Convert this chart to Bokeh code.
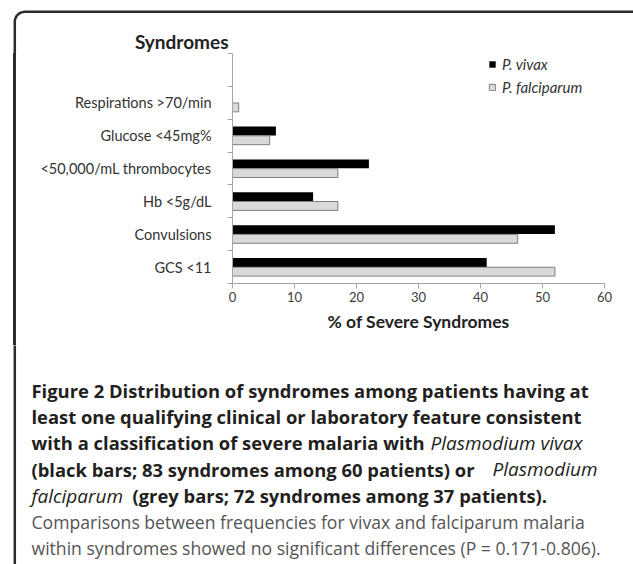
import math
from bokeh.plotting import figure
from bokeh.layouts import column, row
from bokeh.models import (Range1d, FixedTicker, Label, Legend, LegendItem,
                          ColumnDataSource, Div)
from bokeh.embed import file_html
from bokeh.resources import INLINE

# ---------------- data ----------------
categories = ["GCS <11", "Convulsions", "Hb <5g/dL", "<50,000/mL thrombocytes",
              "Glucose <45mg%", "Respirations >70/min"]
vivax = [41, 52, 13, 22, 7, 0]
falciparum = [52, 46, 17, 17, 6, 1]
x_ticks = [0, 10, 20, 30, 40, 50, 60]
series_names = ["P. vivax", "P. falciparum"]

caption_lines = [
    [("Figure 2 Distribution of syndromes among patients having at", "bold")],
    [("least one qualifying clinical or laboratory feature consistent", "bold")],
    [("with a classification of severe malaria with ", "bold"), ("Plasmodium vivax", "italic")],
    [("(black bars; 83 syndromes among 60 patients) or ", "bold"), ("Plasmodium", "italic")],
    [("falciparum", "italic"), (" (grey bars; 72 syndromes among 37 patients).", "bold")],
    [("Comparisons between frequencies for vivax and falciparum malaria", "normal")],
    [("within syndromes showed no significant differences (P = 0.171-0.806).", "normal")],
]

# ---------------- layout (page pixels) ----------------
PW, PH = 633, 564
TOP_H = 53            # chart frame top
MID_B = 345           # bottom of chart section
LEFT_W = 30           # left decoration strip
FRAME_L, FRAME_R, FRAME_B = 232, 604, 283

FONT = "Lato"
CAP_FONT = "Open Sans"
AXIS_GREY = "#a6a6a6"
BORDER = "#2b2b2b"
BX, BY, BR = 14.3, 11.3, 10


def deco_fig(w, h, x0, y0):
    f = figure(width=w, height=h, x_range=Range1d(x0, x0 + w), y_range=Range1d(y0 + h, y0),
               output_backend="svg", toolbar_location=None,
               x_axis_type=None, y_axis_type=None,
               min_border=0, min_border_left=0, min_border_right=0,
               min_border_top=0, min_border_bottom=0)
    f.xgrid.visible = False
    f.ygrid.visible = False
    f.outline_line_color = None
    f.background_fill_color = "white"
    f.border_fill_color = "white"
    return f


# --- top strip: border corner, top line, "Syndromes"
top = deco_fig(PW, TOP_H, 0, 0)
xs_b, ys_b = [], []
for k in range(0, 13):
    a = math.pi + k * (math.pi / 2) / 12
    xs_b.append(BX + BR + BR * math.cos(a))
    ys_b.append(BY + BR + BR * math.sin(a))
top.line([BX] + xs_b + [PW + 5], [TOP_H + 2] + ys_b + [BY], line_color=BORDER, line_width=2.5)
top.add_layout(Label(x=228, y=41, text="Syndromes", text_align="right", text_baseline="middle",
                     text_font=FONT, text_font_style="bold", text_font_size="19px",
                     text_color="#222222"))

# --- left strip (border line only)
x0b, x1b = BX - 1.25, BX + 1.25
left = Div(text="", width=LEFT_W, height=MID_B - TOP_H, margin=0,
           styles={"background": f"linear-gradient(to right, #ffffff 0px, #ffffff {x0b}px, "
                                 f"{BORDER} {x0b}px, {BORDER} {x1b}px, #ffffff {x1b}px)"})

# --- chart
CW = PW - LEFT_W
CH = MID_B - TOP_H
p = figure(width=CW, height=CH, x_range=Range1d(0, 60), y_range=Range1d(0, len(categories) + 1),
           output_backend="svg", toolbar_location=None,
           min_border_left=FRAME_L - LEFT_W, min_border_top=0,
           min_border_right=PW - FRAME_R, min_border_bottom=MID_B - FRAME_B)
p.xgrid.visible = False
p.ygrid.visible = False
p.outline_line_color = None
p.background_fill_color = "white"
p.border_fill_color = "white"

y_pos = [i + 0.5 for i in range(len(categories))]
src = ColumnDataSource(dict(
    cat=categories,
    yv=[y + 0.14 for y in y_pos],
    yf=[y - 0.14 for y in y_pos],
    vivax=vivax,
    falciparum=falciparum,
))

r_v = p.hbar(y="yv", left=0, right="vivax", height=0.27, fill_color="black",
             line_color=None, source=src)
r_f = p.hbar(y="yf", left=0, right="falciparum", height=0.27, fill_color="#d9d9d9",
             line_color="#7f7f7f", line_width=1, source=src)

xa = p.xaxis[0]
xa.ticker = FixedTicker(ticks=x_ticks)
xa.minor_tick_line_color = None
xa.major_tick_out = 5
xa.major_tick_in = 0
xa.axis_line_color = AXIS_GREY
xa.major_tick_line_color = AXIS_GREY
xa.major_label_text_font = FONT
xa.major_label_text_font_size = "13px"
xa.major_label_text_color = "#404040"
xa.major_label_standoff = 3
xa.axis_label = "% of Severe Syndromes"
xa.axis_label_text_font = FONT
xa.axis_label_text_font_style = "bold"
xa.axis_label_text_font_size = "17.5px"
xa.axis_label_text_color = "#222222"
xa.axis_label_standoff = 6

ya = p.yaxis[0]
ya.ticker = FixedTicker(ticks=y_pos, minor_ticks=list(range(len(categories) + 2)))
ya.major_label_overrides = {y: c for y, c in zip(y_pos, categories)}
ya.major_tick_out = 0
ya.major_tick_in = 0
ya.minor_tick_out = 5
ya.minor_tick_in = 0
ya.minor_tick_line_color = AXIS_GREY
ya.axis_line_color = AXIS_GREY
ya.major_label_text_font = FONT
ya.major_label_text_font_size = "14.5px"
ya.major_label_text_color = "#333333"
ya.major_label_standoff = 16

legend = Legend(items=[LegendItem(label=series_names[0], renderers=[r_v]),
                       LegendItem(label=series_names[1], renderers=[r_f])],
                location=(488 - FRAME_L, FRAME_B - 96), padding=0, spacing=5,
                glyph_width=8, glyph_height=8, label_standoff=6, label_height=18,
                label_text_font=FONT, label_text_font_style="italic",
                label_text_font_size="15px", label_text_color="#333333",
                border_line_color=None, background_fill_alpha=0)
p.add_layout(legend)

# --- caption
cap = deco_fig(PW, PH - MID_B, 0, MID_B)
cap.line([BX, BX], [MID_B - 2, PH + 5], line_color=BORDER, line_width=2.5)
line_x = [[31], [31], [31, 430], [31, 492], [31, 132], [31], [31]]
sizes = {"bold": "18.4px", "italic": "19px", "normal": "17.6px"}
base_y0, step = 389.5, 26.4
for i, segs in enumerate(caption_lines):
    py = base_y0 + i * step
    for (txt, style), px in zip(segs, line_x[i]):
        color = "#555555" if style == "normal" else "#231f20"
        cap.add_layout(Label(x=px, y=py, text=txt, text_align="left",
                             text_baseline="alphabetic", text_font=CAP_FONT,
                             text_font_style=style, text_font_size=sizes[style],
                             text_color=color))

layout = column(top, row(left, p), cap)
open("out.html", "w").write(file_html(layout, INLINE))
